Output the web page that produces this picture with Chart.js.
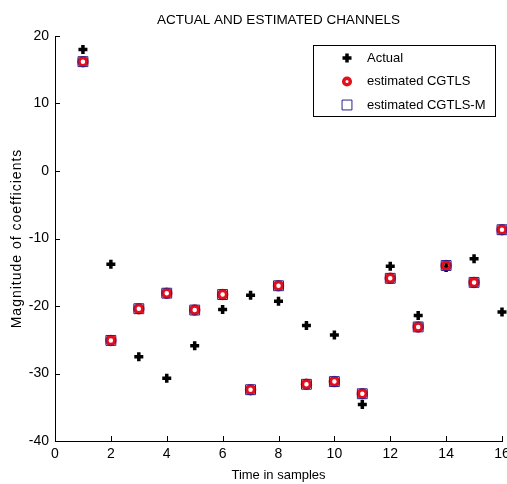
<!DOCTYPE html>
<html>
<head>
<meta charset="utf-8">
<script src="https://cdn.jsdelivr.net/npm/chart.js@4.4.1/dist/chart.umd.min.js"></script>
<style>
	html, body { margin: 0; padding: 0; background: #fff; }
	canvas { display: block; }
</style>
</head>
<body>
<canvas id="chart" width="507" height="484"></canvas>
<script>
const samples = [1, 2, 3, 4, 5, 6, 7, 8, 9, 10, 11, 12, 13, 14, 15, 16];
const actual = [18.0, -13.8, -27.5, -30.7, -25.9, -20.5, -18.4, -19.3, -22.9, -24.3, -34.6, -14.1, -21.4, -14.3, -13.0, -20.9];
const cgtls = [16.2, -25.1, -20.4, -18.1, -20.6, -18.3, -32.4, -17.0, -31.6, -31.2, -33.0, -15.9, -23.1, -14.0, -16.5, -8.7];
const cgtlsM = [16.2, -25.1, -20.4, -18.1, -20.6, -18.3, -32.4, -17.0, -31.6, -31.2, -33.0, -15.9, -23.1, -14.0, -16.5, -8.7];
const xTicks = [0, 2, 4, 6, 8, 10, 12, 14, 16];
const yTicks = [-40, -30, -20, -10, 0, 10, 20];
const yTitle = "Magnitude of coefficients";

const FONT = "'Liberation Sans', Arial, sans-serif";
Chart.defaults.color = "#000";
Chart.defaults.font.family = FONT;

const toPoints = (ys) => samples.map((s, i) => ({ x: s, y: ys[i] }));

// matlab style ticks pointing into the plot
const inwardTicks = {
	id: "inwardTicks",
	afterDraw(chart) {
		const { ctx, chartArea: area } = chart;
		const sx = chart.scales.x;
		const sy = chart.scales.y;
		ctx.save();
		ctx.strokeStyle = "#000";
		ctx.lineWidth = 1;
		ctx.beginPath();
		xTicks.forEach((v) => {
			const px = Math.round(sx.getPixelForValue(v)) + 0.5;
			ctx.moveTo(px, area.bottom);
			ctx.lineTo(px, area.bottom - 5);
		});
		yTicks.forEach((v) => {
			const py = Math.round(sy.getPixelForValue(v)) + 0.5;
			ctx.moveTo(area.left, py);
			ctx.lineTo(area.left + 5, py);
		});
		ctx.stroke();
		ctx.restore();
	},
};

// y title, drawn by hand to get the wide letter spacing of the original
const yAxisTitle = {
	id: "yAxisTitle",
	afterDraw(chart) {
		const { ctx, chartArea: area } = chart;
		ctx.save();
		ctx.translate(17, (area.top + area.bottom) / 2);
		ctx.rotate(-Math.PI / 2);
		ctx.font = "14px " + FONT;
		ctx.letterSpacing = "1px";
		ctx.fillStyle = "#000";
		ctx.textAlign = "center";
		ctx.textBaseline = "middle";
		ctx.fillText(yTitle, 0, 0);
		ctx.restore();
	},
};

// boxed legend in the upper right corner
const boxLegend = {
	id: "boxLegend",
	afterDraw(chart) {
		const { ctx, chartArea: area } = chart;
		const w = 182;
		const h = 71;
		const bx = Math.round(area.right - 7 - w);
		const by = Math.round(area.top + 9);
		ctx.save();
		ctx.fillStyle = "#fff";
		ctx.fillRect(bx, by, w, h);
		ctx.strokeStyle = "#000";
		ctx.lineWidth = 1;
		ctx.strokeRect(bx + 0.5, by + 0.5, w, h);
		ctx.font = "13px " + FONT;
		ctx.textBaseline = "middle";
		ctx.textAlign = "left";
		chart.data.datasets.forEach((ds, i) => {
			const cy = by + 13 + i * 23.5;
			ctx.fillStyle = ds.pointBackgroundColor;
			ctx.strokeStyle = ds.pointBorderColor;
			ctx.lineWidth = ds.pointBorderWidth;
			Chart.helpers.drawPoint(ctx, {
				pointStyle: ds.pointStyle,
				radius: ds.legendRadius,
				borderWidth: ds.pointBorderWidth,
				rotation: 0,
			}, bx + 34, cy);
			ctx.fillStyle = "#000";
			ctx.fillText(ds.label, bx + 54, cy);
		});
		ctx.restore();
	},
};

new Chart(document.getElementById("chart"), {
	type: "scatter",
	data: {
		datasets: [
			{
				label: "Actual",
				data: toPoints(actual),
				pointStyle: "cross",
				pointRadius: 4.5,
				legendRadius: 4.5,
				pointBorderWidth: 3.5,
				pointBorderColor: "#000",
				pointBackgroundColor: "#000",
				order: 3,
				clip: false,
			},
			{
				label: "estimated CGTLS",
				data: toPoints(cgtls),
				pointStyle: "circle",
				pointRadius: 4,
				legendRadius: 3.3,
				pointBorderWidth: 3.5,
				pointBorderColor: "#e3101c",
				pointBackgroundColor: "rgba(0,0,0,0)",
				order: 2,
				clip: false,
			},
			{
				label: "estimated CGTLS-M",
				data: toPoints(cgtlsM),
				pointStyle: "rect",
				pointRadius: 7,
				legendRadius: 7,
				pointBorderWidth: 1,
				pointBorderColor: "#2a208c",
				pointBackgroundColor: "rgba(0,0,0,0)",
				order: 1,
				clip: false,
			},
		],
	},
	options: {
		responsive: false,
		animation: false,
		events: [],
		layout: { autoPadding: false, padding: { left: 0, right: 5, top: 0, bottom: 0 } },
		plugins: {
			legend: { display: false },
			tooltip: { enabled: false },
			title: {
				display: true,
				fullSize: false,
				text: "ACTUAL AND ESTIMATED CHANNELS",
				color: "#000",
				font: { size: 13.5, weight: "normal", family: FONT },
				padding: { top: 12, bottom: 7.8 },
			},
		},
		scales: {
			x: {
				type: "linear",
				min: 0,
				max: 16,
				afterBuildTicks(s) {
					s.ticks = xTicks.map((v) => ({ value: v }));
				},
				ticks: { font: { size: 14 }, padding: 5, maxRotation: 0, autoSkip: false },
				grid: { drawOnChartArea: false, drawTicks: false },
				border: { color: "#000", width: 1 },
				title: {
					display: true,
					text: "Time in samples",
					font: { size: 13 },
					padding: { top: 0, bottom: 1 },
				},
				afterFit(s) {
					s.height = 43;
					s.paddingLeft = 0;
					s.paddingRight = 0;
				},
			},
			y: {
				type: "linear",
				min: -40,
				max: 20,
				afterBuildTicks(s) {
					s.ticks = yTicks.map((v) => ({ value: v }));
				},
				ticks: { font: { size: 14 }, padding: 6 },
				grid: { drawOnChartArea: false, drawTicks: false },
				border: { color: "#000", width: 1 },
				afterFit(s) {
					s.width = 55;
					s.paddingTop = 0;
					s.paddingBottom = 0;
				},
			},
		},
	},
	plugins: [inwardTicks, yAxisTitle, boxLegend],
});
</script>
</body>
</html>
